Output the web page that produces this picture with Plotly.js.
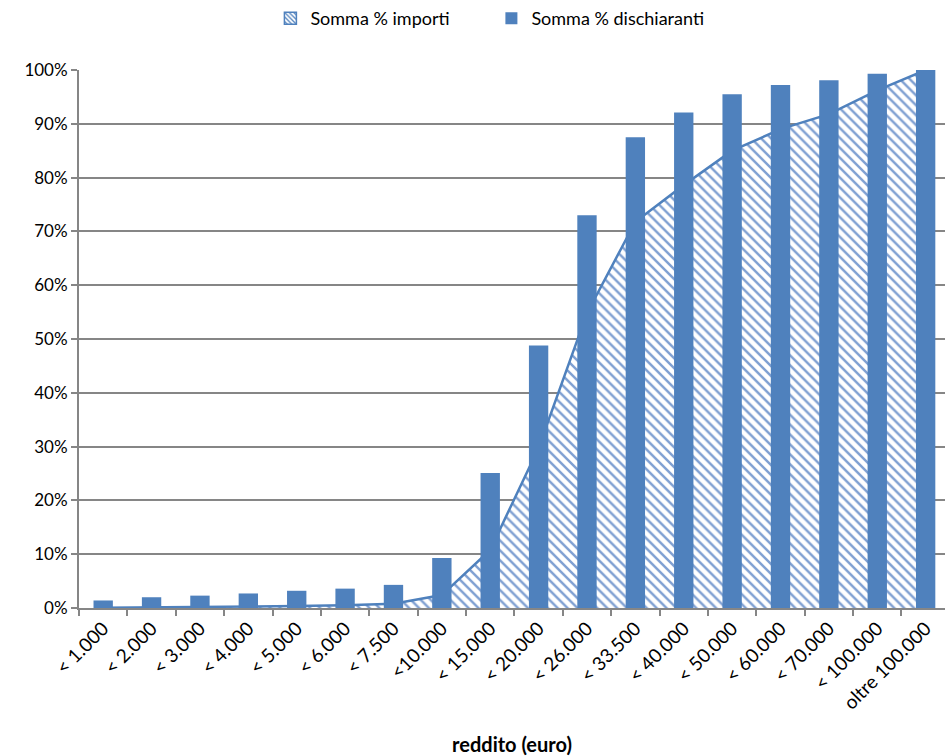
<!DOCTYPE html>
<html><head><meta charset="utf-8">
<script src="https://cdn.plot.ly/plotly-3.0.1.min.js"></script>
<style>html,body{margin:0;padding:0;background:#fff}#chart{width:945px;height:756px}</style>
</head><body><div id="chart"></div>
<script>
const categories = ["< 1.000","< 2.000","< 3.000","< 4.000","< 5.000","< 6.000","< 7.500","<10.000","< 15.000","< 20.000","< 26.000","< 33.500","< 40.000","< 50.000","< 60.000","< 70.000","< 100.000","oltre 100.000"];
const sommaImporti = [0.05,0.1,0.15,0.25,0.35,0.5,0.8,2.4,10.8,29.8,54.8,71.8,78.6,85.0,89.0,91.8,96.2,100];
const sommaDichiaranti = [1.4,2.0,2.3,2.7,3.2,3.6,4.3,9.3,25.1,48.8,73.0,87.5,92.1,95.5,97.2,98.1,99.3,100];
const seriesNames = ['Somma % importi', 'Somma % dischiaranti'];
const blue = '#4F81BD';
const font = 'Lato, "Open Sans", sans-serif';
const hatch = {shape:'\\', fgcolor:'#7FA0D2', bgcolor:'#ffffff', size:7, solidity:0.35};
const traces = [
  {type:'scatter', mode:'lines', name:seriesNames[0], x:categories, y:sommaImporti,
   fill:'tozeroy', fillcolor:'rgba(255,255,255,1)', fillpattern:hatch,
   line:{color:blue, width:2.5}, cliponaxis:false, xaxis:'x', yaxis:'y', showlegend:false},
  {type:'bar', name:seriesNames[0], x:[categories[0]], y:[null],
   marker:{color:'#ffffff', line:{color:blue, width:1.5}, pattern:{shape:'\\', fgcolor:blue, bgcolor:'#ffffff', size:4, solidity:0.4}},
   xaxis:'x', yaxis:'y', showlegend:true, width:0.4},
  {type:'bar', name:seriesNames[1], x:categories, y:sommaDichiaranti,
   marker:{color:blue}, width:0.4, xaxis:'x', yaxis:'y2'}
];
const layout = {
  width:945, height:756,
  margin:{l:78.5, r:0, t:70, b:148},
  paper_bgcolor:'#fff', plot_bgcolor:'#fff',
  font:{family:font, size:17, color:'#000'},
  barmode:'overlay',
  showlegend:true,
  legend:{orientation:'h', x:0.52, xanchor:'center', xref:'container', y:1, yref:'container', yanchor:'top', font:{size:18}, itemwidth:30, traceorder:'normal', entrywidth:176},
  xaxis:{type:'category', range:[-0.5,17.4], showline:true, linecolor:'#868686', linewidth:2,
    ticks:'outside', ticklen:6, tickcolor:'#868686', tickwidth:2, tickson:'boundaries',
    tickangle:-45, tickfont:{size:19}, showgrid:false,
    title:{text:'<b>reddito (euro)</b>', font:{size:20}, standoff:40}},
  yaxis:{range:[0,100], dtick:10, ticksuffix:'%', showline:true, linecolor:'#868686', linewidth:2,
    ticks:'outside', ticklen:6, tickcolor:'#868686', tickwidth:2,
    gridcolor:'#868686', gridwidth:2, zeroline:false, tickfont:{size:17}},
  yaxis2:{range:[0,100], overlaying:'y', visible:false, showgrid:false},
  hovermode:false
};
Plotly.newPlot('chart', traces, layout, {staticPlot:true});
</script></body></html>
